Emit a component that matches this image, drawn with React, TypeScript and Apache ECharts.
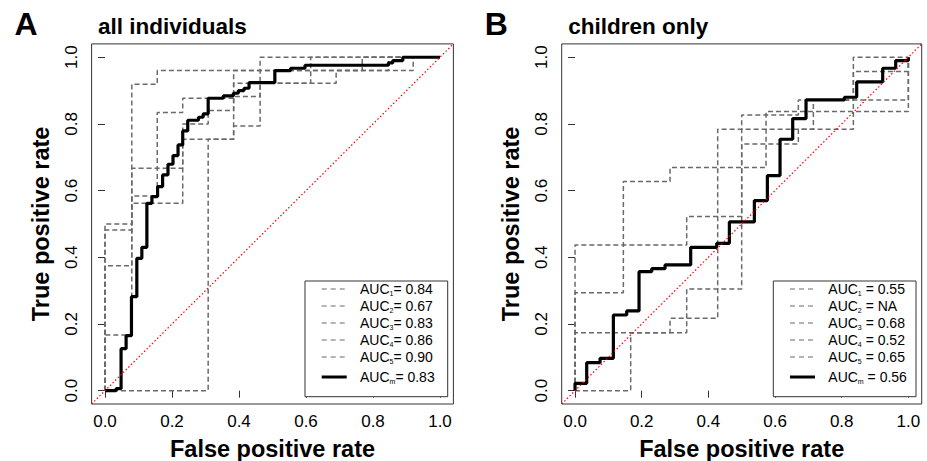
import React, { useEffect, useRef } from "react";
import * as echarts from "echarts";

// ---------- data ----------
const tickValues = [0, 0.2, 0.4, 0.6, 0.8, 1.0];
const panelLetters = ["A", "B"];
const panelTitles = ["all individuals", "children only"];
const xTitle = "False positive rate";
const yTitle = "True positive rate";

// Panel A: individual ROC curves (fpr, tpr), drawn as steps
const rocA1 = [[0, 0], [0, 0.375], [0.08, 0.667], [0.232, 0.8], [0.308, 0.84], [0.384, 0.922], [0.69, 0.96], [0.768, 1], [1, 1]];
const rocA2 = [[0, 0], [0.308, 0.754], [0.384, 0.96], [0.846, 1], [1, 1]];
const rocA3 = [[0, 0], [0, 0.482], [0.08, 0.562], [0.232, 0.754], [0.384, 0.794], [0.463, 0.922], [0.614, 1], [1, 1]];
const rocA4 = [[0, 0], [0, 0.167], [0.08, 0.584], [0.156, 0.834], [0.232, 0.877], [0.384, 0.882], [0.463, 1], [1, 1]];
const rocA5 = [[0, 0], [0, 0.5], [0.08, 0.919], [0.156, 0.96], [0.92, 1], [1, 1]];
const meanA = [[0, 0], [0.033, 0.006], [0.048, 0.126], [0.063, 0.165], [0.079, 0.282], [0.095, 0.397], [0.11, 0.43], [0.125, 0.562], [0.14, 0.582], [0.157, 0.612], [0.172, 0.647], [0.188, 0.679], [0.203, 0.705], [0.218, 0.737], [0.232, 0.779], [0.247, 0.811], [0.279, 0.82], [0.293, 0.83], [0.308, 0.877], [0.353, 0.884], [0.383, 0.892], [0.398, 0.9], [0.415, 0.907], [0.43, 0.924], [0.507, 0.96], [0.554, 0.967], [0.597, 0.976], [0.846, 0.983], [0.859, 0.99], [0.889, 1], [1, 1]];
const aucA = ["0.84", "0.67", "0.83", "0.86", "0.90"];
const aucMeanA = "0.83";

// Panel B
const rocB1 = [[0, 0], [0, 0.174], [0.335, 0.305], [0.5, 0.74], [0.67, 0.784], [0.835, 1], [1, 1]];
const rocB2: number[][] = []; // AUC NA, not drawn
const rocB3 = [[0, 0], [0, 0.294], [0.145, 0.627], [0.285, 0.669], [0.573, 0.837], [1, 1]];
const rocB4 = [[0, 0], [0.167, 0.174], [0.285, 0.217], [0.428, 0.784], [0.715, 0.872], [1, 1]];
const rocB5 = [[0, 0], [0, 0.437], [0.335, 0.522], [0.5, 0.827], [0.67, 0.872], [0.835, 0.957], [1, 1]];
const meanB = [[0, 0], [0, 0.022], [0.035, 0.084], [0.075, 0.097], [0.115, 0.227], [0.155, 0.239], [0.192, 0.357], [0.23, 0.366], [0.27, 0.377], [0.347, 0.43], [0.425, 0.442], [0.463, 0.506], [0.538, 0.57], [0.577, 0.645], [0.615, 0.754], [0.653, 0.816], [0.693, 0.872], [0.808, 0.88], [0.845, 0.926], [0.923, 0.967], [0.962, 0.99], [1, 1]];
const aucB = ["0.55", "NA", "0.68", "0.52", "0.65"];
const aucMeanB = "0.56";

const chanceLine = [[-0.04, -0.04], [1.04, 1.04]];

// ---------- styling ----------
const FONT = "Liberation Sans, Arial, Helvetica, sans-serif";
const AXIS_COLOR = "#333";
const DASH_COLOR = "#6a6a6a";

const panels = [
  { curves: [rocA1, rocA2, rocA3, rocA4, rocA5], mean: meanA, auc: aucA, aucMean: aucMeanA, eq: "= ", gridLeft: 91.6, gridWidth: 361.8 },
  { curves: [rocB1, rocB2, rocB3, rocB4, rocB5], mean: meanB, auc: aucB, aucMean: aucMeanB, eq: " = ", gridLeft: 561.7, gridWidth: 360 },
];

const GRID_TOP = 43.9;
const GRID_H = 360.1;

function buildOption() {
  const grid: any[] = [];
  const xAxis: any[] = [];
  const yAxis: any[] = [];
  const series: any[] = [];
  const graphic: any[] = [];

  panels.forEach((p, i) => {
    grid.push({
      left: p.gridLeft, top: GRID_TOP, width: p.gridWidth, height: GRID_H,
      outerBoundsMode: "none", containLabel: false,
      show: true, borderColor: AXIS_COLOR, borderWidth: 1, backgroundColor: "transparent",
    });
    xAxis.push({
      gridIndex: i, type: "value", min: -0.04, max: 1.04,
      splitLine: { show: false },
      axisLine: { show: false },
      axisTick: { show: true, length: 7, customValues: tickValues, lineStyle: { color: AXIS_COLOR } },
      axisLabel: {
        customValues: tickValues, margin: 8.5, fontSize: 17, color: "#000", fontFamily: FONT,
        formatter: (v: number) => v.toFixed(1),
      },
      name: xTitle, nameLocation: "middle", nameGap: 33,
      nameTextStyle: { fontSize: 23.5, fontWeight: "bold", color: "#000", fontFamily: FONT },
    });
    yAxis.push({
      gridIndex: i, type: "value", min: -0.04, max: 1.04,
      splitLine: { show: false },
      axisLine: { show: false },
      axisTick: { show: true, length: 7, customValues: tickValues, lineStyle: { color: AXIS_COLOR } },
      axisLabel: {
        customValues: tickValues, margin: 12, fontSize: 17, color: "#000", fontFamily: FONT, rotate: 90,
        formatter: (v: number) => v.toFixed(1),
      },
      name: yTitle, nameLocation: "middle", nameGap: 39, nameRotate: 90,
      nameTextStyle: { fontSize: 23.5, fontWeight: "bold", color: "#000", fontFamily: FONT },
    });

    p.curves.forEach((c, k) => {
      series.push({
        type: "line", xAxisIndex: i, yAxisIndex: i, data: c, step: "end",
        showSymbol: false, symbol: "none", silent: true, z: 2,
        lineStyle: { color: DASH_COLOR, width: 1.5, type: [5, 3] },
        name: "AUC" + (k + 1),
      });
    });
    series.push({
      type: "line", xAxisIndex: i, yAxisIndex: i, data: p.mean, step: "end",
      showSymbol: false, symbol: "none", silent: true, z: 3,
      lineStyle: { color: "#000", width: 3.2 },
    });
    series.push({
      type: "line", xAxisIndex: i, yAxisIndex: i, data: chanceLine,
      showSymbol: false, symbol: "none", silent: true, z: 4,
      lineStyle: { color: "#ff0000", width: 1.2, type: [1.5, 2.2] },
    });

    // panel letter and title
    const left = p.gridLeft;
    graphic.push({
      type: "text", left: left - 77, top: 8,
      style: { text: panelLetters[i], font: `bold 32px ${FONT}`, fill: "#000" },
    });
    graphic.push({
      type: "text", left: left + 6.5, top: 15,
      style: { text: panelTitles[i], font: `bold 22.5px ${FONT}`, fill: "#000" },
    });

    // legend box
    const lgRight = p.gridLeft + p.gridWidth - 5.7;
    const lgLeft = lgRight - 142.7;
    const lgTop = 281;
    const lgBottom = 396.7;
    graphic.push({
      type: "rect", shape: { x: lgLeft, y: lgTop, width: lgRight - lgLeft, height: lgBottom - lgTop },
      style: { fill: "#fff", stroke: AXIS_COLOR, lineWidth: 1 }, z: 10,
    });
    const rows = [289, 306, 323, 340, 357, 377];
    const labels = p.auc.map((a, k) => ({ sub: String(k + 1), val: a, dashed: true }));
    labels.push({ sub: "m", val: p.aucMean, dashed: false });
    labels.forEach((lb, r) => {
      const y = rows[r];
      graphic.push({
        type: "line", shape: { x1: lgLeft + 16.7, y1: y, x2: lgLeft + 41.7, y2: y },
        style: lb.dashed
          ? { stroke: DASH_COLOR, lineWidth: 1.2, lineDash: [5, 4] }
          : { stroke: "#000", lineWidth: 3 },
        z: 11,
      });
      graphic.push({
        type: "text", x: lgLeft + 55, y: y, z: 11,
        style: {
          text: `AUC{s|${lb.sub}}${p.eq}${lb.val}`,
          font: `14px ${FONT}`, fill: "#000", verticalAlign: "middle",
          rich: {
            s: { fontSize: 7, fontFamily: FONT, verticalAlign: "bottom", lineHeight: 16, fill: "#000" },
          },
        },
      });
    });
  });

  return { animation: false, backgroundColor: "#fff", grid, xAxis, yAxis, series, graphic };
}

export default function App() {
  const ref = useRef<HTMLDivElement>(null);
  useEffect(() => {
    if (!ref.current) return;
    const chart = echarts.init(ref.current, undefined, { renderer: "svg" });
    chart.setOption(buildOption() as any);
    return () => chart.dispose();
  }, []);
  return <div ref={ref} style={{ position: "fixed", left: 0, top: 0, width: 927, height: 461 }} />;
}
